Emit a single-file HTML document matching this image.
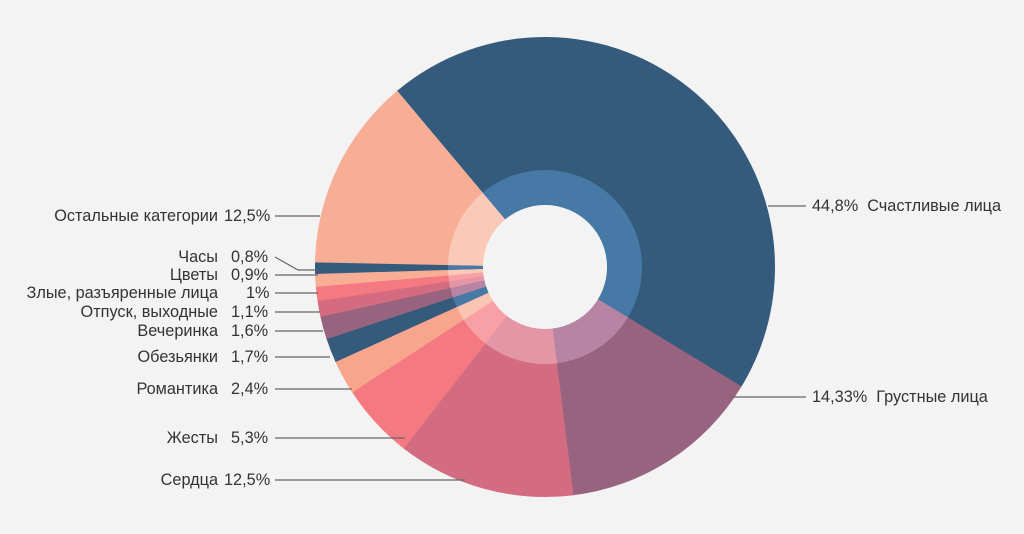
<!DOCTYPE html>
<html><head><meta charset="utf-8"><style>
html,body{margin:0;padding:0;background:#f3f3f3;}
svg{display:block}
text{font-family:"Liberation Sans",sans-serif;font-size:16.3px;fill:#333}
</style></head><body>
<svg id="s" width="1024" height="534" viewBox="0 0 1024 534">
<rect width="1024" height="534" fill="#f3f3f3"/>
<g id="pie"></g>
<g stroke="#666" stroke-width="1.2" fill="none">
<line x1="275" y1="216" x2="320" y2="216"/>
<polyline points="275,257 298,270 318,270"/>
<line x1="275" y1="275" x2="318" y2="275"/>
<line x1="275" y1="293" x2="318" y2="293"/>
<line x1="275" y1="312" x2="320" y2="312"/>
<line x1="275" y1="331" x2="323" y2="331"/>
<line x1="275" y1="357" x2="330" y2="357"/>
<line x1="275" y1="389" x2="352" y2="389"/>
<line x1="275" y1="438" x2="405" y2="438"/>
<line x1="275" y1="480" x2="465" y2="480"/>
<line x1="768" y1="206" x2="806" y2="206"/>
<line x1="733" y1="397" x2="806" y2="397"/>
</g>
<g text-anchor="end">
<text x="218" y="221">Остальные категории</text>
<text x="218" y="262">Часы</text>
<text x="218" y="280">Цветы</text>
<text x="218" y="298">Злые, разъяренные лица</text>
<text x="218" y="317">Отпуск, выходные</text>
<text x="218" y="336">Вечеринка</text>
<text x="218" y="362">Обезьянки</text>
<text x="218" y="394">Романтика</text>
<text x="218" y="443">Жесты</text>
<text x="218" y="485">Сердца</text>
</g>
<g>
<text x="224" y="221">12,5%</text>
<text x="231" y="262">0,8%</text>
<text x="231" y="280">0,9%</text>
<text x="246" y="298">1%</text>
<text x="231" y="317">1,1%</text>
<text x="231" y="336">1,6%</text>
<text x="231" y="362">1,7%</text>
<text x="231" y="394">2,4%</text>
<text x="231" y="443">5,3%</text>
<text x="224" y="485">12,5%</text>
<text x="812" y="211" xml:space="preserve">44,8%  Счастливые лица</text>
<text x="812" y="402" xml:space="preserve">14,33%  Грустные лица</text>
</g>
</svg>
<script>
var data=[[44.8,"#355b7c","#4679a5"],[14.33,"#97637f","#b784a3"],[12.5,"#d36c80","#e396a6"],[5.3,"#f47980","#f8a0a6"],[2.4,"#f8a58e","#fbc4b3"],[1.7,"#355b7c","#4679a5"],[1.6,"#97637f","#b784a3"],[1.1,"#d36c80","#e396a6"],[1,"#f47980","#f8a0a6"],[0.9,"#f8ad95","#fbc9b8"],[0.8,"#355b7c","#4679a5"],[0,"#f8ad95","#fbc9b8"]];
var cx=545,cy=267,R=230,R2=97,R1=62,a=-40,g=document.getElementById("pie"),h="";
function p(r,deg){var t=deg*Math.PI/180;return [cx+r*Math.sin(t),cy-r*Math.cos(t)];}
function arc(r0,r1,a0,a1,c){var l=(a1-a0)>180?1:0,A=p(r1,a0),B=p(r1,a1),C=p(r0,a1),D=p(r0,a0);
return '<path fill="'+c+'" d="M'+A+' A'+r1+','+r1+' 0 '+l+' 1 '+B+' L'+C+' A'+r0+','+r0+' 0 '+l+' 0 '+D+'Z"/>';}
data.forEach((d,i)=>{var s=i==data.length-1?(320-a):d[0]*3.6;var e=Math.min(a+s+0.3,320);h+=arc(R1,R,a,e,d[1]);h+=arc(R1,R2,a,e,d[2]);a+=s;});
h+='<circle cx="'+cx+'" cy="'+cy+'" r="'+R1+'" fill="#f3f3f3"/>';
g.innerHTML=h;
</script>
</body></html>
